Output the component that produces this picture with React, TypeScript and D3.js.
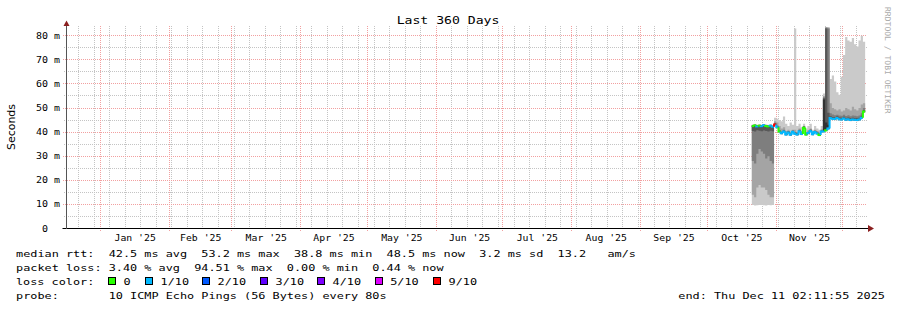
import React from 'react';
import * as d3 from 'd3';

const W = 897;
const H = 310;

const TITLE = 'Last 360 Days';
const Y_LABEL = 'Seconds';
const WATERMARK = 'RRDTOOL / TOBI OETIKER';
const END_TEXT = 'end: Thu Dec 11 02:11:55 2025';

const yTickValues = [0, 10, 20, 30, 40, 50, 60, 70, 80];
const yTickLabels = ['0', '10 m', '20 m', '30 m', '40 m', '50 m', '60 m', '70 m', '80 m'];
const yMinorValues = [5, 15, 25, 35, 45, 55, 65, 75];

const legendRttRow = 'median rtt:  42.5 ms avg  53.2 ms max  38.8 ms min  48.5 ms now  3.2 ms sd  13.2   am/s';
const legendLossRow = 'packet loss: 3.40 % avg  94.51 % max  0.00 % min  0.44 % now';
const legendColorLabel = 'loss color:';
const legendProbeRow = 'probe:       10 ICMP Echo Pings (56 Bytes) every 80s';
const lossLabels = ['0', '1/10', '2/10', '3/10', '4/10', '5/10', '9/10'];
const lossColors = ['#26ff00', '#00b8ff', '#0059ff', '#5e00ff', '#7e00ff', '#dd00ff', '#ff0000'];
const smokeColors = ['#cacaca', '#a4a4a4', '#7e7e7e', '#585858', '#323232'];

// daily data, starting 2025-10-21
const dataStart = '2025-10-21';

const median = [
  42.5, 42.7, 42.3, 42.6, 42.4, 42.8, 42.5, 42.3, 42.6, 42.2,
  43.2, 42.0, 40.2, 39.5, 40.3, 39.0, 39.8, 38.9, 40.1, 39.3,
  39.0, 40.4, 39.2, 41.8, 39.0, 39.6, 40.5, 39.1, 40.0, 39.4,
  38.8, 40.2, 40.3, 40.8, 41.5, 45.8, 45.5, 45.4, 45.8, 45.3,
  45.2, 45.6, 45.1, 45.3, 45.0, 45.2, 45.1, 45.0, 45.2, 46.0, 48.5,
];

const lossLevel = [
  0, 0, 1, 0, 1, 1, 0, 0, 1, 1,
  6, 1, 0, 1, 1, 1, 1, 1, 1, 1,
  1, 1, 1, 0, 0, 1, 1, 1, 1, 1,
  0, 1, 1, 0, 1, 1, 1, 1, 1, 1,
  1, 1, 1, 1, 1, 1, 1, 1, 1, 1, 0,
];

const ping1 = [
  9.7, 9.5, 9.6, 9.7, 9.8, 9.6, 9.5, 9.7, 9.6, 9.7,
  42.6, 41.5, 39.7, 39.0, 39.8, 38.5, 39.3, 38.4, 39.6, 38.8,
  38.5, 39.9, 38.7, 41.3, 38.5, 39.1, 40.0, 38.6, 39.5, 38.9,
  38.3, 39.7, 39.8, 40.3, 41.0, 45.2, 45.0, 44.9, 45.3, 44.8,
  44.7, 45.1, 44.6, 44.8, 44.5, 44.7, 44.6, 44.5, 44.7, 45.5, 48.0,
];
const ping2 = [
  14, 13, 17, 18, 17, 17, 16, 14, 13, 13,
  42.8, 41.6, 39.8, 39.1, 39.9, 38.6, 39.4, 38.5, 39.7, 38.9,
  38.6, 40.0, 38.8, 41.4, 38.6, 39.2, 40.1, 38.7, 39.6, 39.0,
  38.4, 39.8, 40.0, 40.5, 41.2, 45.4, 45.1, 45.0, 45.4, 44.9,
  44.8, 45.2, 44.7, 44.9, 44.6, 44.8, 44.7, 44.6, 44.8, 45.6, 48.1,
];
const ping3 = [
  28, 27, 31, 33, 32, 31, 29, 30, 28, 27,
  42.9, 41.7, 39.9, 39.2, 40.0, 38.7, 39.5, 38.6, 39.8, 39.0,
  38.7, 40.1, 38.9, 41.5, 38.7, 39.3, 40.2, 38.8, 39.7, 39.1,
  38.5, 39.9, 40.1, 40.6, 41.3, 45.5, 45.2, 45.1, 45.5, 45.0,
  44.9, 45.3, 44.8, 45.0, 44.7, 44.9, 44.8, 44.7, 44.9, 45.7, 48.2,
];
const ping4 = [
  40.5, 40.3, 40.8, 40.6, 40.4, 40.7, 40.5, 40.2, 40.6, 40.4,
  43.0, 41.8, 40.0, 39.3, 40.1, 38.8, 39.6, 38.7, 39.9, 39.1,
  38.8, 40.2, 39.0, 41.6, 38.8, 39.4, 40.3, 38.9, 39.8, 39.2,
  38.6, 40.0, 40.2, 40.7, 41.4, 45.6, 45.3, 45.2, 45.6, 45.1,
  45.0, 45.4, 44.9, 45.1, 44.8, 45.0, 44.9, 44.8, 45.0, 45.8, 48.3,
];
const ping5 = [
  42.1, 42.3, 41.9, 42.2, 42.0, 42.4, 42.1, 41.9, 42.2, 41.8,
  43.1, 41.9, 40.1, 39.4, 40.2, 38.9, 39.7, 38.8, 40.0, 39.2,
  38.9, 40.3, 39.1, 41.7, 38.9, 39.5, 40.4, 39.0, 39.9, 39.3,
  38.7, 40.1, 40.3, 41.0, 42.0, 45.7, 45.4, 45.3, 45.7, 45.2,
  45.1, 45.5, 45.0, 45.2, 44.9, 45.1, 45.0, 44.9, 45.1, 45.9, 48.4,
];
const ping6 = [
  42.5, 42.7, 42.3, 42.6, 42.4, 42.8, 42.5, 42.3, 42.6, 42.2,
  43.4, 42.2, 40.4, 39.7, 40.5, 39.2, 40.0, 39.1, 40.3, 39.5,
  39.2, 40.6, 39.4, 42.0, 39.2, 39.8, 40.7, 39.3, 40.2, 39.6,
  39.0, 40.4, 53.5, 44.0, 43.0, 46.0, 45.7, 45.6, 46.0, 45.5,
  45.4, 45.8, 45.3, 45.5, 45.2, 45.4, 45.3, 45.2, 45.4, 46.2, 48.7,
];
const ping7 = [
  42.8, 43.0, 42.6, 42.9, 42.7, 43.1, 42.8, 42.6, 42.9, 42.5,
  43.6, 42.4, 40.6, 39.9, 40.7, 39.4, 40.2, 39.3, 40.5, 39.7,
  39.4, 40.8, 39.6, 42.2, 39.4, 40.0, 40.9, 39.5, 40.4, 39.8,
  39.2, 40.6, 54.0, 83.0, 48.0, 46.6, 46.3, 46.2, 46.6, 46.1,
  46.0, 46.4, 45.9, 46.1, 45.8, 46.0, 45.9, 45.8, 46.0, 46.8, 49.2,
];
const ping8 = [
  42.9, 43.1, 42.7, 43.0, 42.8, 43.2, 42.9, 42.7, 43.0, 42.6,
  43.9, 42.7, 40.9, 40.2, 41.0, 39.7, 40.5, 39.6, 40.8, 40.0,
  39.7, 41.1, 39.9, 42.5, 39.7, 40.3, 41.2, 39.8, 40.7, 40.1,
  39.5, 40.9, 54.5, 83.3, 83.0, 47.8, 47.3, 47.0, 47.2, 46.9,
  46.8, 47.2, 46.7, 47.0, 46.6, 46.9, 46.8, 46.6, 46.9, 47.8, 50.0,
];
const ping9 = [
  43.0, 43.2, 42.8, 43.1, 42.9, 43.3, 43.0, 42.8, 43.1, 42.7,
  44.5, 44.0, 42.5, 41.5, 42.0, 40.5, 41.0, 40.0, 41.0, 41.0,
  40.0, 41.5, 40.5, 42.5, 40.0, 40.8, 41.5, 40.0, 41.0, 40.5,
  39.8, 41.2, 55.0, 83.5, 83.3, 52.0, 50.0, 49.5, 49.0, 49.5,
  48.5, 49.0, 50.0, 49.5, 49.0, 50.5, 49.5, 49.0, 50.0, 51.5, 52.0,
];
const ping10 = [
  43.1, 43.3, 42.9, 43.2, 43.0, 43.4, 43.1, 42.9, 43.2, 42.8,
  46.0, 45.5, 45.0, 44.5, 46.5, 43.5, 42.5, 44.0, 43.0, 83.0,
  42.5, 43.5, 42.0, 43.5, 41.5, 42.5, 43.5, 41.0, 42.5, 41.5,
  41.0, 42.5, 56.0, 83.6, 83.6, 62.0, 63.5, 61.0, 56.5, 55.5,
  63.0, 72.0, 79.5, 78.0, 77.5, 79.0, 76.5, 75.5, 78.0, 80.0, 77.5,
];

const pings = [ping1, ping2, ping3, ping4, ping5, ping6, ping7, ping8, ping9, ping10];

// geometry
const PLOT_LEFT = 67;
const PLOT_RIGHT = 867;
const PLOT_TOP = 26;
const PLOT_BOTTOM = 228.5;
const Y_MAX = 84;
const VIEW_START = new Date(Date.UTC(2024, 11, 16, 20, 0, 0));
const VIEW_END = d3.utcDay.offset(VIEW_START, 360);

const MONO = 'DejaVu Sans Mono';

function MonoText(props: {
  x: number; y: number; text: string; size: number; cw: number;
  anchor?: string; fill?: string; transform?: string;
}) {
  const { x, y, text, size, cw, anchor = 'start', fill = '#000', transform } = props;
  return (
    <text
      x={x}
      y={y}
      fontFamily={MONO}
      fontSize={size}
      textLength={text.length * cw}
      lengthAdjust="spacingAndGlyphs"
      textAnchor={anchor}
      fill={fill}
      transform={transform}
      style={{ whiteSpace: 'pre' }}
    >
      {text}
    </text>
  );
}

const crisp = (v: number) => Math.floor(v) + 0.5;

export default function App() {
  const x = d3.scaleUtc().domain([VIEW_START, VIEW_END]).range([PLOT_LEFT, PLOT_RIGHT]);
  const y = d3.scaleLinear().domain([0, Y_MAX]).range([PLOT_BOTTOM, PLOT_BOTTOM - Y_MAX * 2.41]);

  const start = d3.utcParse('%Y-%m-%d')(dataStart) as Date;
  const dates = median.map((_, i) => d3.utcDay.offset(start, i));
  const ends = median.map((_, i) => d3.utcDay.offset(start, i + 1));

  const weeks = d3.utcSunday.range(VIEW_START, VIEW_END);
  const months = d3.utcMonth.range(d3.utcMonth.ceil(VIEW_START), VIEW_END);
  const monthLabels = d3.utcMonth
    .range(d3.utcMonth.floor(VIEW_START), VIEW_END)
    .map((m) => {
      const next = d3.utcMonth.offset(m, 1);
      const c = new Date((m.getTime() + next.getTime()) / 2);
      return { c, label: d3.utcFormat("%b '%y")(m) };
    })
    .filter((d) => d.c >= VIEW_START && d.c <= VIEW_END);

  type P = { x: number; lo: number; hi: number };
  const area = d3
    .area<P>()
    .x((p) => p.x)
    .y0((p) => y(p.lo))
    .y1((p) => y(p.hi));

  const layers = [0, 1, 2, 3, 4].map((k) => {
    const lo = pings[k];
    const hi = pings[9 - k];
    const pts: P[] = [];
    dates.forEach((d, i) => {
      pts.push({ x: x(d), lo: lo[i], hi: hi[i] });
      pts.push({ x: x(ends[i]), lo: lo[i], hi: hi[i] });
    });
    return { path: area(pts) as string, color: smokeColors[k] };
  });

  const line = d3.line<[number, number]>();
  const medianPieces = median.map((v, i) => {
    const x0 = x(dates[i]);
    const x1 = x(ends[i]);
    const pts: [number, number][] = [];
    if (i > 0) pts.push([x0, y(median[i - 1])]);
    pts.push([x0, y(v)]);
    pts.push([x1, y(v)]);
    const lvl = Math.min(lossLevel[i], 6);
    return { d: line(pts) as string, color: lossColors[lvl] };
  });

  const majorGrid = '#f2a0a0';
  const minorGrid = '#c4c4c4';
  const arrow = '#8b2020';

  const legendBoxX = [109, 146, 203, 261, 318, 375.7, 434];
  const CW = 7.126;
  const LS = 9.3;
  const rows = [257, 271, 285, 298.5];

  return (
    <svg
      width={W}
      height={H}
      viewBox={`0 0 ${W} ${H}`}
      style={{ position: 'absolute', left: 0, top: 0, background: '#fff' }}
    >
      <rect x={0} y={0} width={W} height={H} fill="#fff" />

      {/* minor horizontal grid */}
      {yMinorValues.map((v) => (
        <line key={'hm' + v} x1={64} x2={PLOT_RIGHT} y1={crisp(y(v))} y2={crisp(y(v))}
          stroke={minorGrid} strokeDasharray="1,1" shapeRendering="crispEdges" />
      ))}
      {/* minor vertical grid (weeks) */}
      {weeks.map((w) => (
        <line key={'vm' + w.getTime()} x1={crisp(x(w))} x2={crisp(x(w))} y1={PLOT_TOP} y2={230}
          stroke={minorGrid} strokeDasharray="1,1" shapeRendering="crispEdges" />
      ))}
      {/* major horizontal grid */}
      {yTickValues.filter((v) => v > 0).map((v) => (
        <line key={'hM' + v} x1={63} x2={PLOT_RIGHT} y1={crisp(y(v))} y2={crisp(y(v))}
          stroke={majorGrid} strokeDasharray="1,1" shapeRendering="crispEdges" />
      ))}
      {/* major vertical grid (months) */}
      {months.map((m) => (
        <line key={'vM' + m.getTime()} x1={crisp(x(m))} x2={crisp(x(m))} y1={PLOT_TOP} y2={232}
          stroke={majorGrid} strokeDasharray="1,1" shapeRendering="crispEdges" />
      ))}

      {/* smoke */}
      {layers.map((l, i) => (
        <path key={'s' + i} d={l.path} fill={l.color} stroke="none" />
      ))}
      {/* median colored by loss */}
      {medianPieces.map((p, i) => (
        <path key={'m' + i} d={p.d} fill="none" stroke={p.color} strokeWidth={2} />
      ))}

      {/* axes */}
      <line x1={62.5} x2={869} y1={228.5} y2={228.5} stroke="#000" strokeWidth={1} />
      <line x1={66.5} x2={66.5} y1={229} y2={24} stroke="#555" strokeWidth={1} />
      <path d="M868,225 L874,228.5 L868,232 Z" fill={arrow} />
      <path d="M63.5,26 L66.5,20.5 L69.5,26 Z" fill={arrow} />

      {/* y tick labels */}
      {yTickValues.map((v, i) =>
        v === 0 ? (
          <MonoText key={'yl' + v} x={42} y={y(v) + 3} text={yTickLabels[i]} size={8.4} cw={6} />
        ) : (
          <MonoText key={'yl' + v} x={36} y={y(v) + 3} text={yTickLabels[i]} size={8.4} cw={6} />
        )
      )}

      {/* x labels */}
      {monthLabels.map((m) => (
        <MonoText key={'xl' + m.label} x={x(m.c)} y={241} text={m.label} size={8.6} cw={5.9} anchor="middle" />
      ))}

      {/* title */}
      <MonoText x={448} y={24} text={TITLE} size={10.2} cw={7.9} anchor="middle" />

      {/* y axis label */}
      <text x={0} y={0} transform="translate(15,127) rotate(-90)" fontFamily="DejaVu Sans"
        fontSize={10.5} textAnchor="middle" textLength={46} lengthAdjust="spacingAndGlyphs">
        {Y_LABEL}
      </text>

      {/* watermark */}
      <MonoText x={0} y={0} transform="translate(885,7) rotate(90)" text={WATERMARK} size={7.8} cw={4.85} fill="#aaaaaa" />

      {/* legend */}
      <MonoText x={16} y={rows[0]} text={legendRttRow} size={LS} cw={CW} />
      <MonoText x={16} y={rows[1]} text={legendLossRow} size={LS} cw={CW} />
      <MonoText x={16} y={rows[2]} text={legendColorLabel} size={LS} cw={CW} />
      {lossLabels.map((lab, i) => (
        <g key={'lg' + lab}>
          <rect x={legendBoxX[i] - 0.5} y={277.5} width={7} height={7} fill={lossColors[i]} stroke="#000" strokeWidth={1} shapeRendering="crispEdges" />
          <MonoText x={legendBoxX[i] + 14.5} y={rows[2]} text={lab} size={LS} cw={CW} />
        </g>
      ))}
      <MonoText x={16} y={rows[3]} text={legendProbeRow} size={LS} cw={CW} />
      <MonoText x={678.3} y={rows[3]} text={END_TEXT} size={LS} cw={CW} />
    </svg>
  );
}
